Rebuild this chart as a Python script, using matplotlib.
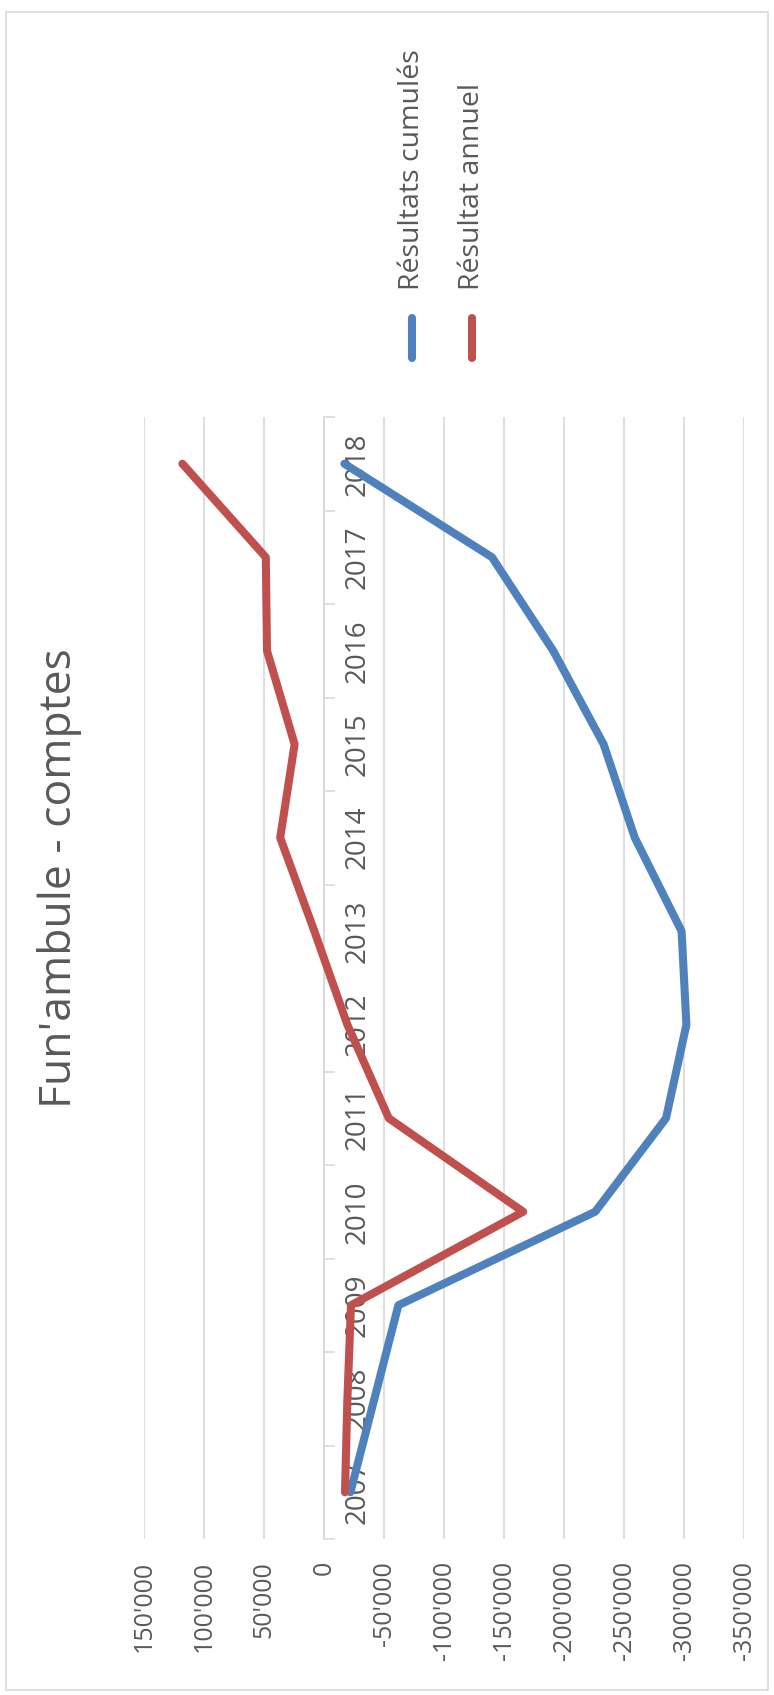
import matplotlib.pyplot as plt
from matplotlib.patches import Rectangle

years = ['2007', '2008', '2009', '2010', '2011', '2012',
         '2013', '2014', '2015', '2016', '2017', '2018']
cumules = [-22000, -42000, -62000, -226000, -285000, -302000,
           -298000, -259000, -233000, -191000, -140000, -17000]
annuel = [-17500, -19500, -22500, -166000, -54000, -19500,
          8000, 36500, 24500, 47500, 48500, 118000]
value_ticks = [150000, 100000, 50000, 0, -50000, -100000, -150000,
               -200000, -250000, -300000, -350000]
value_labels = ["150'000", "100'000", "50'000", "0", "-50'000", "-100'000",
                "-150'000", "-200'000", "-250'000", "-300'000", "-350'000"]

plt.rcParams['font.family'] = ['Open Sans', 'DejaVu Sans']
grey_txt = '#595959'
grid_col = '#d9d9d9'

W, H = 774, 1695
fig = plt.figure(figsize=(W / 100, H / 100), dpi=100)

# rotated chart: values run horizontally (inverted), years run upward
ax = fig.add_axes([144 / W, 1 - 1539 / H, 600 / W, 1122 / H])
pos = list(range(len(years)))
ax.plot(cumules, pos, color='#4F81BD', lw=5.8, solid_capstyle='round',
        solid_joinstyle='round', label='Résultats cumulés', zorder=3)
ax.plot(annuel, pos, color='#C0504D', lw=5.8, solid_capstyle='round',
        solid_joinstyle='round', label='Résultat annuel', zorder=3)

ax.set_xlim(150000, -350000)
ax.set_ylim(-0.5, len(years) - 0.5)
ax.set_xticks(value_ticks)
ax.set_xticklabels(value_labels, rotation=90, color=grey_txt, fontsize=18)
ax.tick_params(axis='x', length=0, pad=16)
ax.grid(axis='x', color=grid_col, lw=1.2)
ax.set_axisbelow(True)

for s in ['top', 'bottom', 'left']:
    ax.spines[s].set_visible(False)
ax.spines['right'].set_position(('data', 0))
ax.spines['right'].set_color(grid_col)
ax.spines['right'].set_linewidth(1.2)
ax.yaxis.tick_right()
ax.set_yticks([p - 0.5 for p in pos] + [len(years) - 0.5])
ax.set_yticklabels([])
ax.tick_params(axis='y', which='major', direction='out', length=8,
               color=grid_col, width=1.2)
ax.set_yticks(pos, minor=True)
ax.set_yticklabels(years, minor=True, rotation=90, va='center',
                   color=grey_txt, fontsize=20)
ax.tick_params(axis='y', which='minor', length=0, pad=14)

fig.text(60 / W, 1 - 878 / H, "Fun'ambule - comptes", rotation=90,
         ha='center', va='center', fontsize=32, color=grey_txt)

# legend drawn by hand, vertical
for xl, col, lab in [(412, '#4F81BD', 'Résultats cumulés'),
                     (472, '#C0504D', 'Résultat annuel')]:
    fig.add_artist(plt.Line2D([xl / W, xl / W], [1 - 358 / H, 1 - 318 / H],
                              color=col, lw=5.8, solid_capstyle='round'))
    fig.text(xl / W, 1 - 290 / H, lab, rotation=90, rotation_mode='anchor',
             ha='left', va='center', fontsize=20.5, color=grey_txt)

fig.add_artist(Rectangle((6 / W, 5 / H), 762 / W, 1 - 17 / H,
                         transform=fig.transFigure, fill=False,
                         edgecolor=grid_col, lw=1.2))

fig.savefig('out.png', dpi=100)
